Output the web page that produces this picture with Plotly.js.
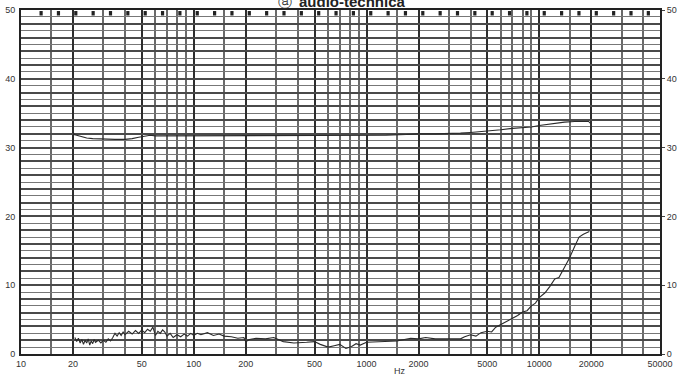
<!DOCTYPE html>
<html>
<head>
<meta charset="utf-8">
<script src="https://cdn.plot.ly/plotly-3.0.1.min.js"></script>
<style>html,body{margin:0;padding:0;background:#fff;}#chart{width:677px;height:376px;}</style>
</head>
<body>
<div id="chart"></div>
<script>
// Frequency response (upper trace)
const respFreq = [20, 20.1, 20.3, 21, 22, 24, 26, 30, 35, 40, 44, 48, 52, 56, 60, 80, 100, 150, 200, 300, 500, 700, 900, 1000, 1300, 1700, 2000, 2500, 3000, 3500, 4000, 4500, 5000, 6000, 7000, 8000, 9000, 10000, 12000, 14000, 16000, 18000, 19300, 20000];
const respDb   = [30.6, 32.2, 31.9, 31.8, 31.6, 31.4, 31.3, 31.2, 31.2, 31.2, 31.3, 31.5, 31.7, 31.8, 31.7, 31.7, 31.7, 31.7, 31.7, 31.7, 31.7, 31.7, 31.8, 31.8, 31.8, 31.9, 32.0, 32.0, 32.0, 32.1, 32.2, 32.3, 32.4, 32.6, 32.8, 32.9, 33.0, 33.2, 33.5, 33.7, 33.8, 33.8, 33.8, 33.4];

// Lower trace
const noiseFreq = [20.5, 21, 21.5, 22, 22.5, 23, 23.5, 24, 24.5, 25, 25.5, 26, 26.5, 27, 28, 29, 30, 31, 32, 33, 34, 35, 36, 37, 38, 39, 40, 42, 44, 46, 48, 50, 52, 54, 56, 58, 60, 62, 64, 66, 68, 70, 73, 76, 80, 84, 88, 92, 96, 100, 105, 110, 120, 130, 140, 150, 165, 180, 195, 200, 210, 230, 260, 290, 330, 380, 450, 500, 540, 600, 650, 700, 760, 820, 870, 920, 1000, 1200, 1500, 1800, 2000, 2200, 2500, 3000, 3500, 3700, 4000, 4300, 4600, 5000, 5300, 5600, 6000, 6500, 7000, 7500, 8000, 8500, 9000, 9500, 10000, 10800, 11500, 12300, 13000, 14000, 15000, 16000, 17000, 18000, 19500];
const noiseDb   = [2.4, 1.8, 2.3, 1.6, 2.1, 1.4, 2.0, 1.6, 2.2, 1.3, 1.9, 1.5, 2.1, 1.7, 2.0, 1.6, 2.0, 1.7, 2.2, 1.9, 2.4, 3.0, 2.6, 3.1, 2.7, 3.2, 2.8, 3.3, 2.9, 3.4, 3.0, 3.5, 3.1, 3.6, 3.3, 3.9, 2.7, 3.3, 3.0, 3.5, 3.2, 2.6, 3.0, 2.4, 2.8, 2.5, 2.9, 2.6, 3.0, 2.7, 3.0, 2.8, 3.1, 2.7, 2.9, 2.6, 2.5, 2.3, 2.4, 1.8, 2.1, 2.3, 2.2, 2.4, 1.8, 1.6, 1.7, 1.8, 1.4, 1.0, 1.2, 1.4, 0.8, 1.1, 1.5, 1.3, 1.7, 1.8, 1.9, 2.3, 2.2, 2.4, 2.2, 2.2, 2.2, 2.5, 2.8, 2.6, 3.1, 3.3, 3.2, 3.9, 4.3, 4.8, 5.3, 5.6, 6.1, 6.3, 7.0, 7.4, 8.2, 8.9, 9.8, 10.9, 11.1, 12.5, 14.0, 15.6, 17.0, 17.4, 17.8];

// Axis ticks / grid
const xLabelVals = [10, 20, 50, 100, 200, 500, 1000, 2000, 5000, 10000, 20000, 50000];
const xLabelText = ["10", "20", "50", "100", "200", "500", "1000", "2000", "5000", "10000", "20000", "50000"];
const xMinorVals = [15, 30, 40, 60, 70, 80, 90, 150, 300, 400, 600, 700, 800, 900, 1500, 3000, 4000, 6000, 7000, 8000, 9000, 15000, 30000, 40000];
const yLabelVals = [0, 10, 20, 30, 40, 50];
const yEvenVals = [0, 2, 4, 6, 8, 10, 12, 14, 16, 18, 20, 22, 24, 26, 28, 30, 32, 34, 36, 38, 40, 42, 44, 46, 48, 50];

const lineStyle = {color: '#2a2a2a', width: 1.1};

const traces = [
  {x: respFreq, y: respDb, type: 'scatter', mode: 'lines', line: lineStyle, hoverinfo: 'skip'},
  {x: noiseFreq, y: noiseDb, type: 'scatter', mode: 'lines', line: lineStyle, hoverinfo: 'skip'},
  {x: [10, 50000], y: [0, 50], yaxis: 'y2', type: 'scatter', mode: 'none', hoverinfo: 'skip'}
];

const tickFont = {family: 'Liberation Sans, Arial, sans-serif', size: 9, color: '#333'};

// decorative ruling marks along the top row of the chart paper
const shapes = [];
for (let i = 0; i < 37; i++) {
  const px = 39.5 + i * 17.35;
  const fx = (px - 21) / 639;
  if (fx > 0.99) break;
  shapes.push({type: 'rect', xref: 'paper', yref: 'y', x0: fx, x1: fx + 0.005, y0: 49.2, y1: 49.85,
               fillcolor: '#222', line: {width: 0}, layer: 'above'});
}

const layout = {
  width: 677, height: 376,
  margin: {l: 21, r: 17, t: 10, b: 22},
  paper_bgcolor: '#fff', plot_bgcolor: '#fff',
  showlegend: false,
  shapes: shapes,
  xaxis: {
    type: 'log', range: [1, Math.log10(50000)],
    tickmode: 'array', tickvals: xLabelVals, ticktext: xLabelText,
    showgrid: true, gridcolor: '#2e2e2e', gridwidth: 2,
    ticks: '', tickfont: tickFont,
    showline: true, linecolor: '#222', linewidth: 2, mirror: true,
    zeroline: false, fixedrange: true,
    minor: {tickmode: 'array', tickvals: xMinorVals, showgrid: true, gridcolor: '#6a6a6a', gridwidth: 2, ticks: ''}
  },
  yaxis: {
    range: [0, 50], tickmode: 'array', tickvals: yEvenVals,
    ticktext: yEvenVals.map(v => (v % 10 === 0 ? String(v) : '')),
    showgrid: true, gridcolor: '#4a4a4a', gridwidth: 2,
    ticks: '', tickfont: tickFont, ticklabelstandoff: 2,
    showline: true, linecolor: '#222', linewidth: 2,
    zeroline: false, fixedrange: true,
    minor: {dtick: 1, showgrid: true, gridcolor: '#777', gridwidth: 1, ticks: ''}
  },
  yaxis2: {
    overlaying: 'y', side: 'right', range: [0, 50], tickmode: 'array', tickvals: yLabelVals,
    showgrid: false, ticks: 'outside', ticklen: 3, tickcolor: '#444', tickfont: tickFont,
    showline: true, linecolor: '#222', linewidth: 2, zeroline: false, fixedrange: true
  },
  annotations: [
    {xref: 'paper', yref: 'paper', x: 0.518, y: 1, yanchor: 'bottom', xanchor: 'center', yshift: -2,
     text: '<b>audio-technica</b>', showarrow: false,
     font: {family: 'Liberation Sans, Arial, sans-serif', size: 15, color: '#222'}},
    {xref: 'paper', yref: 'paper', x: 0.413, y: 1, yanchor: 'bottom', xanchor: 'center', yshift: -2,
     text: 'ⓐ', showarrow: false,
     font: {family: 'DejaVu Sans, sans-serif', size: 14, color: '#333'}},
    {xref: 'paper', yref: 'paper', x: 0.593, y: 0, yanchor: 'top', xanchor: 'center', yshift: -10,
     text: 'Hz', showarrow: false,
     font: {family: 'Liberation Sans, Arial, sans-serif', size: 9, color: '#333'}}
  ]
};

Plotly.newPlot('chart', traces, layout, {staticPlot: true, displayModeBar: false});
</script>
</body>
</html>
